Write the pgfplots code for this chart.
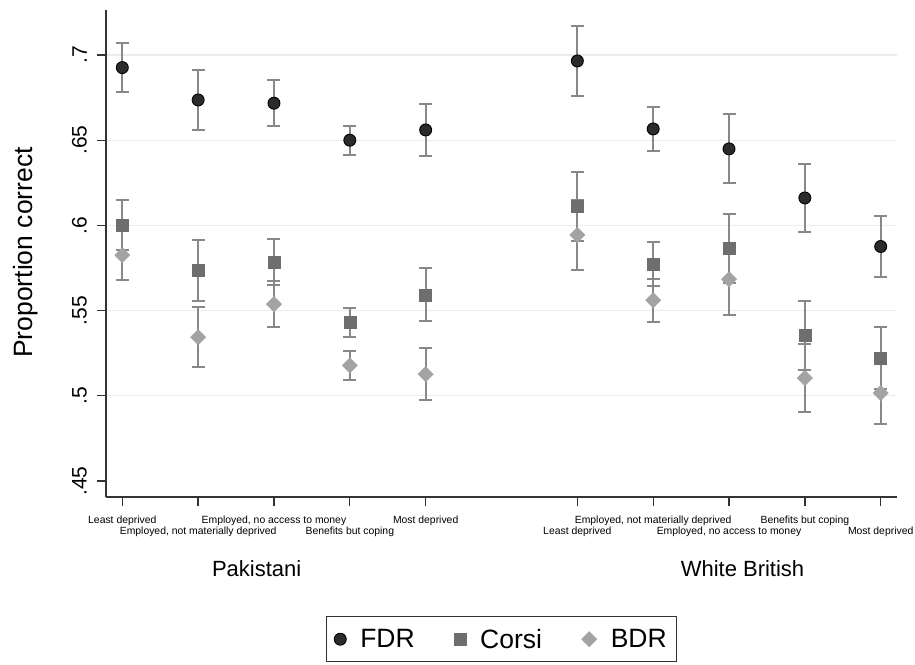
\documentclass[border=0pt]{standalone}
\usepackage{fontspec}
\setmainfont{Liberation Sans}
\usepackage{pgfplots}
\pgfplotsset{compat=1.18}
\usepackage{pgfplotstable}
\definecolor{fdrc}{HTML}{2B2B2B}
\definecolor{corc}{HTML}{6E6E6E}
\definecolor{bdrc}{HTML}{A3A3A3}
\definecolor{errc}{HTML}{888888}
\definecolor{gridc}{HTML}{ECECEC}
\definecolor{axc}{HTML}{333333}
\pgfdeclareplotmark{sqdiamond}{%
  \pgfpathmoveto{\pgfqpoint{0pt}{\pgfplotmarksize}}%
  \pgfpathlineto{\pgfqpoint{\pgfplotmarksize}{0pt}}%
  \pgfpathlineto{\pgfqpoint{0pt}{-\pgfplotmarksize}}%
  \pgfpathlineto{\pgfqpoint{-\pgfplotmarksize}{0pt}}%
  \pgfpathclose\pgfusepathqfillstroke}

\pgfplotstableread{
x y e
1 0.6926 0.0144
2 0.6736 0.0175
3 0.6717 0.0135
4 0.6500 0.0086
5 0.6560 0.0153
7 0.6965 0.0205
8 0.6566 0.0128
9 0.6449 0.0203
10 0.6161 0.0199
11 0.5876 0.0181
}\fdr
\pgfplotstableread{
x y e
1 0.6001 0.0147
2 0.5735 0.0177
3 0.5786 0.0137
4 0.5430 0.0087
5 0.5592 0.0156
7 0.6110 0.0204
8 0.5774 0.0131
9 0.5864 0.0205
10 0.5354 0.0201
11 0.5221 0.0182
}\corsi
\pgfplotstableread{
x y e
1 0.5825 0.0145
2 0.5344 0.0178
3 0.5538 0.0137
4 0.5178 0.0086
5 0.5127 0.0154
7 0.5944 0.0205
8 0.5561 0.0127
9 0.5684 0.0207
10 0.5104 0.0202
11 0.5016 0.0184
}\bdr

\begin{document}
\begin{tikzpicture}
\useasboundingbox (0,0) rectangle (915pt,664pt);
\begin{axis}[
  at={(106pt,167pt)}, anchor=south west,
  scale only axis, width=791pt, height=487pt,
  xmin=0.785, xmax=11.215, ymin=0.4406, ymax=0.7264,
  clip=false,
  axis x line*=bottom, axis y line*=left,
  axis line style={axc, line width=1.3pt},
  tick align=outside, major tick length=9pt,
  tick style={axc, line width=1.3pt},
  xtick={1,3,5,8,10},
  xticklabels={Least deprived, {Employed, no access to money}, Most deprived, {Employed, not materially deprived}, Benefits but coping},
  extra x ticks={2,4,7,9,11},
  extra x tick labels={{Employed, not materially deprived}, Benefits but coping, Least deprived, {Employed, no access to money}, Most deprived},
  extra x tick style={xticklabel style={yshift=-11pt}},
  xticklabel style={font=\fontsize{10.4}{12}\selectfont, anchor=north, inner sep=0pt, text height=7.5pt, text depth=2.2pt},
  xticklabel shift=10pt,
  ytick={0.5,0.55,0.6,0.65,0.7},
  yticklabels={.5,.55,.6,.65,.7},
  extra y ticks={0.45},
  extra y tick labels={.45},
  extra y tick style={grid=none},
  ymajorgrids, major grid style={gridc, line width=1.2pt},
  yticklabel style={font=\fontsize{21}{25}\selectfont, rotate=90, anchor=south, inner sep=0pt},
  yticklabel shift=10pt,
  ylabel={Proportion correct},
  ylabel style={font=\fontsize{26.5}{30}\selectfont, at={(axis description cs:-0.1011,0.502)}, anchor=center},
  legend columns=3,
  legend cell align=left,
  legend image code/.code={\draw[mark repeat=2, mark phase=2, #1] plot coordinates {(0pt,0pt) (6pt,0pt) (12pt,0pt)};},
  legend style={at={(0.5,-0.292)}, anchor=center, draw=axc, line width=1.2pt,
    font=\fontsize{26.5}{30}\selectfont, inner xsep=8pt, inner ysep=10pt,
    /tikz/every odd column/.append style={column sep=12pt},
    /tikz/every even column/.append style={column sep=37.5pt}},
]
\addplot[only marks, mark=*, mark size=6pt, mark options={fill=fdrc, draw=black, line width=0.9pt},
  error bars/.cd, y dir=both, y explicit,
  error bar style={errc, line width=2pt},
  error mark options={rotate=90, errc, line width=2pt, mark size=6.5pt}]
  table[x=x, y=y, y error=e] {\fdr};
\addlegendentry{FDR}
\addplot[only marks, mark=square*, mark size=6pt, mark options={fill=corc, draw=corc, line width=0.5pt},
  error bars/.cd, y dir=both, y explicit,
  error bar style={errc, line width=2pt},
  error mark options={rotate=90, errc, line width=2pt, mark size=6.5pt}]
  table[x=x, y=y, y error=e] {\corsi};
\addlegendentry{Corsi}
\addplot[only marks, mark=sqdiamond, mark size=7.6pt, mark options={fill=bdrc, draw=bdrc, line width=0.5pt},
  error bars/.cd, y dir=both, y explicit,
  error bar style={errc, line width=2pt},
  error mark options={rotate=90, errc, line width=2pt, mark size=6.5pt}]
  table[x=x, y=y, y error=e] {\bdr};
\addlegendentry{BDR}
\node[font=\fontsize{22}{26}\selectfont, anchor=base] at (axis cs:2.772,0.3937) {Pakistani};
\node[font=\fontsize{22}{26}\selectfont, anchor=base] at (axis cs:9.178,0.3937) {White British};
\end{axis}
\end{tikzpicture}
\end{document}
